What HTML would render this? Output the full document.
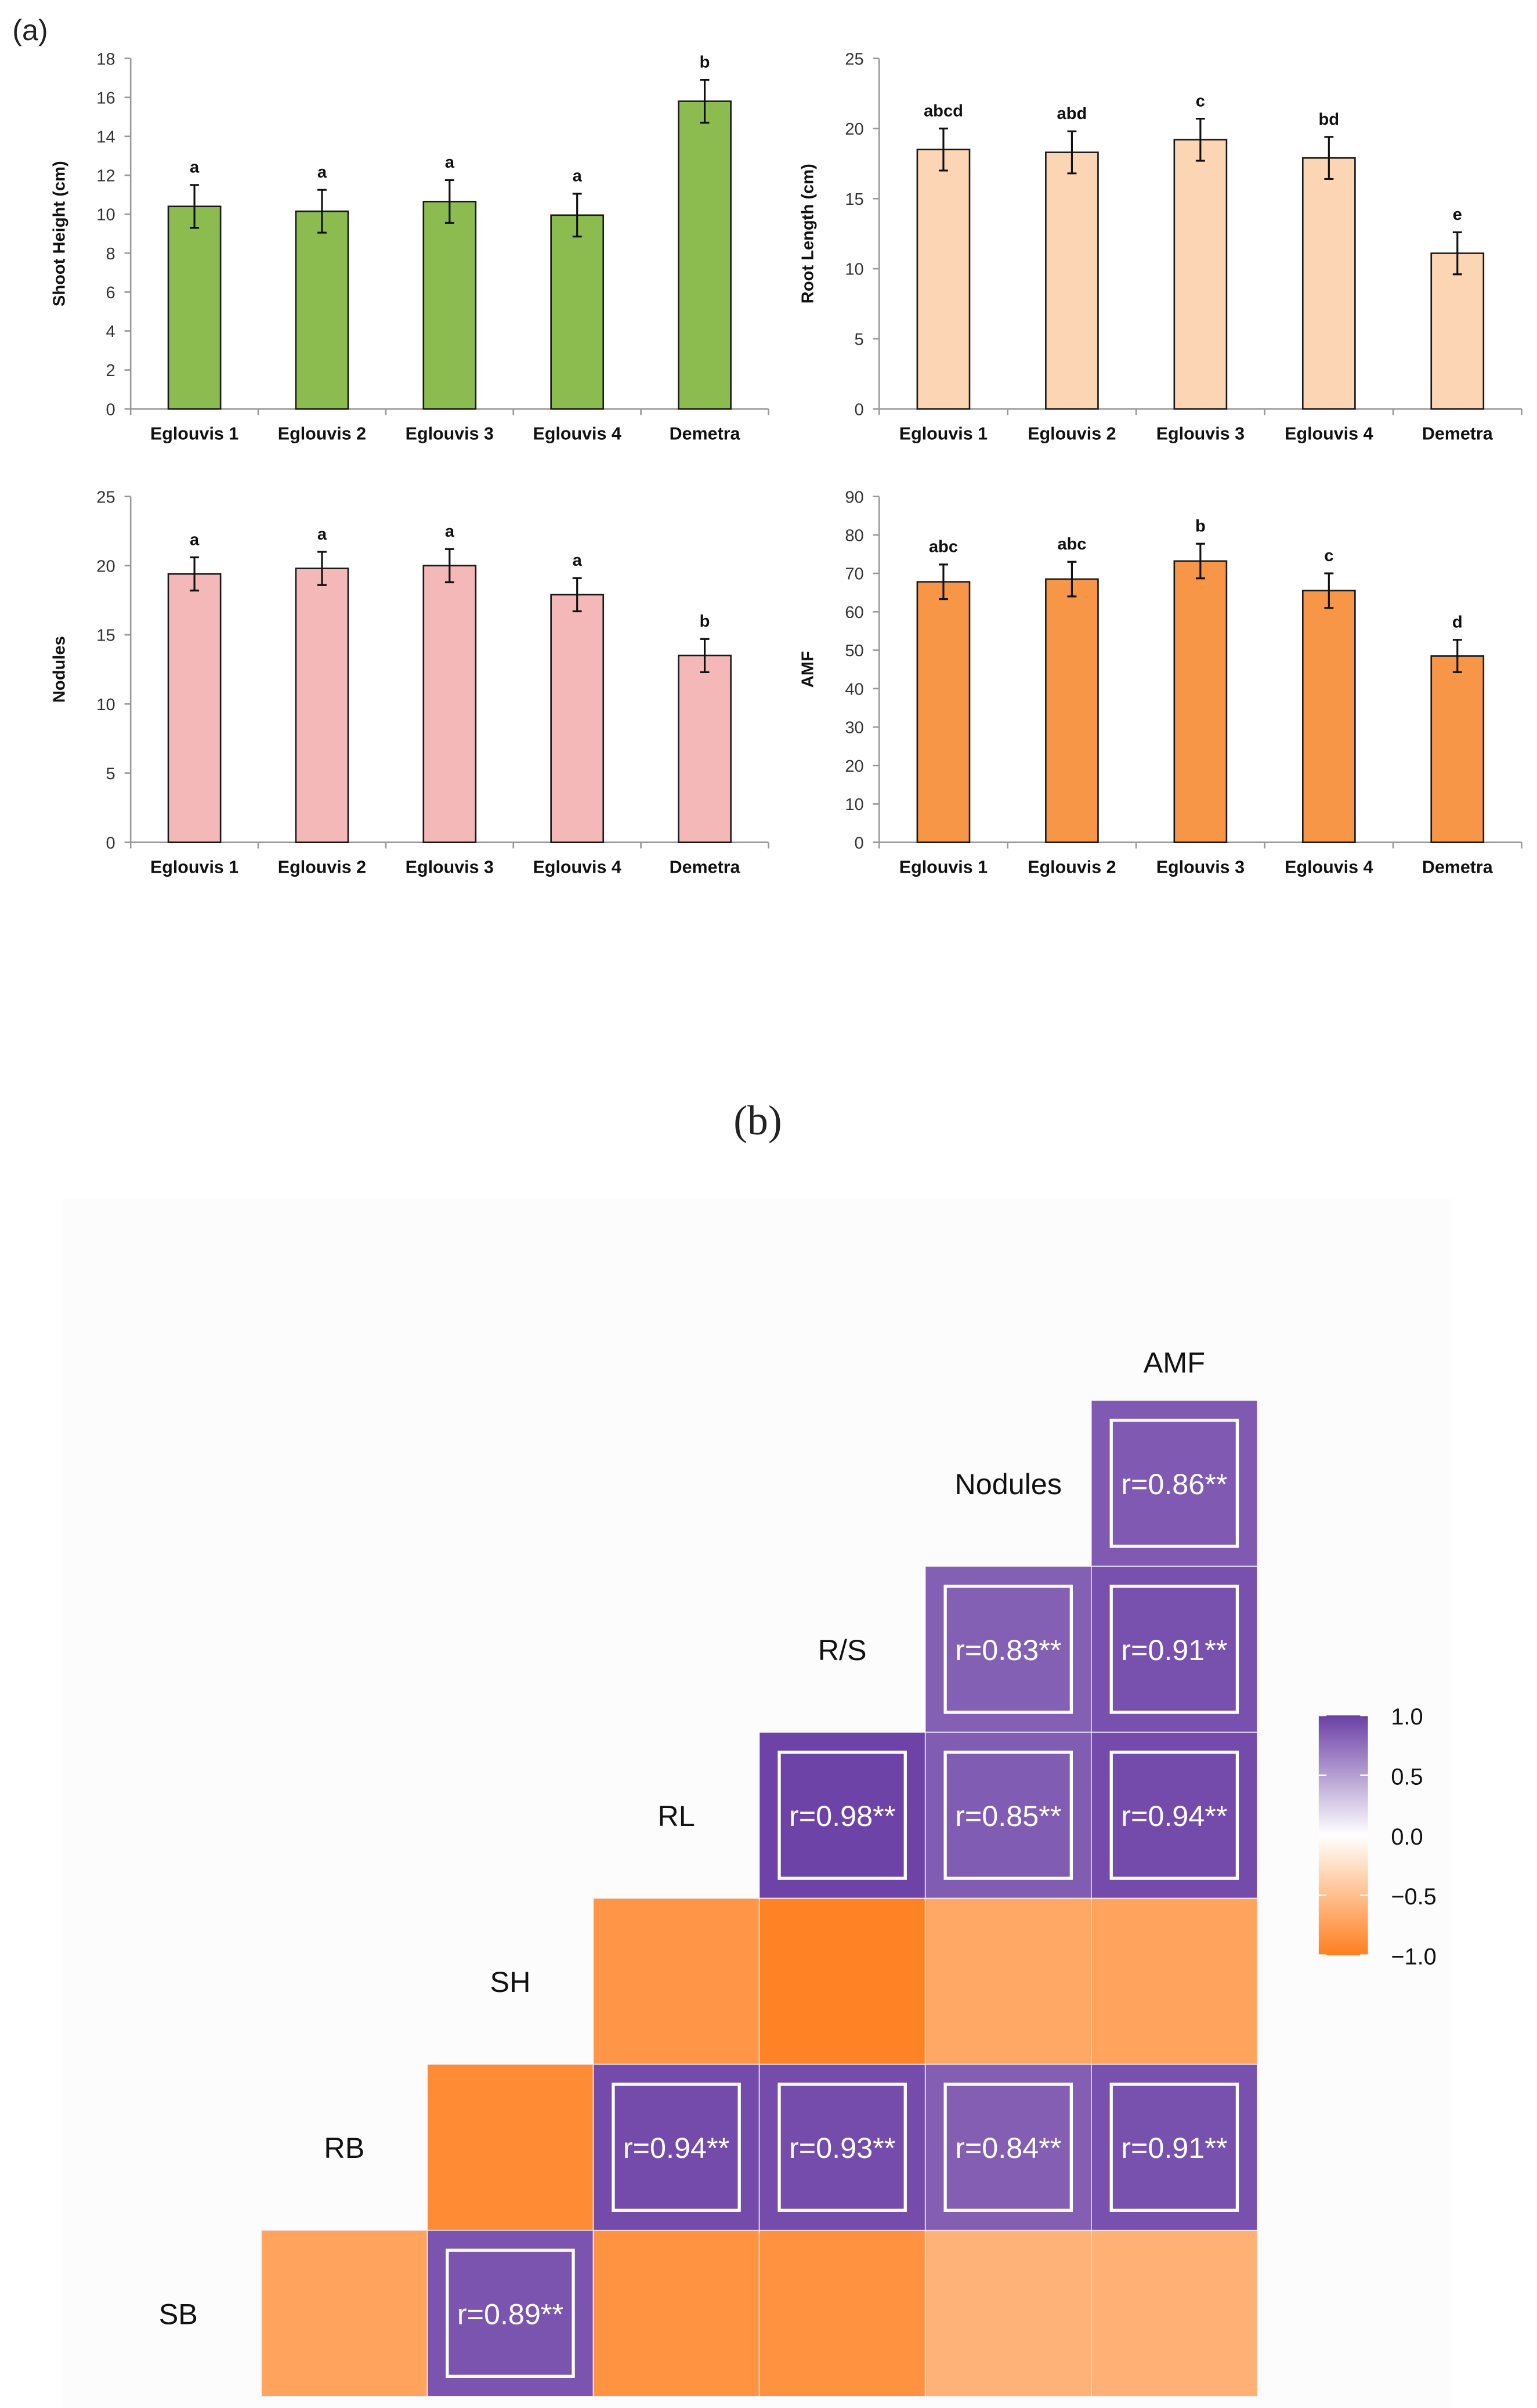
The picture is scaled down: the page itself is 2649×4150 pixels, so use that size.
<!DOCTYPE html>
<html><head><meta charset="utf-8"><style>
html,body{margin:0;padding:0;background:#fff}
svg{display:block}
</style></head><body>
<svg id="root" width="2649" height="4150" viewBox="0 0 1000 1566.6" xmlns="http://www.w3.org/2000/svg" font-family="Liberation Sans, sans-serif">
<rect x="0" y="0" width="1000" height="1567" fill="#fff"/>
<text x="8" y="26" font-size="19" fill="#222">(a)</text>
<text x="493" y="738" font-size="27" font-family="Liberation Serif, serif" text-anchor="middle" fill="#222">(b)</text>
<rect x="40" y="780" width="905" height="787" fill="#fcfcfc"/>
<g id="bars"></g>
<g id="heat"></g>
</svg>
<script>
const categories=["Eglouvis 1","Eglouvis 2","Eglouvis 3","Eglouvis 4","Demetra"];
const shootVals=[10.4,10.15,10.65,9.95,15.8];
const shootErr=[1.1,1.1,1.1,1.1,1.1];
const shootLetters=["a","a","a","a","b"];
const rootVals=[18.5,18.3,19.2,17.9,11.1];
const rootErr=[1.5,1.5,1.5,1.5,1.5];
const rootLetters=["abcd","abd","c","bd","e"];
const noduleVals=[19.4,19.8,20.0,17.9,13.5];
const noduleErr=[1.2,1.2,1.2,1.2,1.2];
const noduleLetters=["a","a","a","a","b"];
const amfVals=[67.8,68.5,73.2,65.5,48.5];
const amfErr=[4.5,4.5,4.5,4.5,4.2];
const amfLetters=["abc","abc","b","c","d"];
const shootTicks=[0,2,4,6,8,10,12,14,16,18];
const rootTicks=[0,5,10,15,20,25];
const noduleTicks=[0,5,10,15,20,25];
const amfTicks=[0,10,20,30,40,50,60,70,80,90];

const heatRows=["Nodules","R/S","RL","SH","RB","SB"];
const heatTopLabel="AMF";
const heatValues=[
 [null,null,null,null,null,0.86],
 [null,null,null,null,0.83,0.91],
 [null,null,null,0.98,0.85,0.94],
 [null,null,-0.82,-0.97,-0.68,-0.72],
 [null,-0.9,0.94,0.93,0.84,0.91],
 [-0.72,0.89,-0.84,-0.85,-0.6,-0.62]
];
const legendTicks=[1.0,0.5,0.0,-0.5,-1.0];

const NS="http://www.w3.org/2000/svg";
function mk(tag,attrs,parent,text){const e=document.createElementNS(NS,tag);for(const k in attrs)e.setAttribute(k,attrs[k]);if(text!==undefined)e.textContent=text;parent.appendChild(e);return e;}

const barsG=document.getElementById("bars");
function barChart(name,x0,x1,yTop,yBot,ticks,vals,errs,letters,color,title){
  const max=ticks[ticks.length-1];
  const ys=v=>yBot-(v/max)*(yBot-yTop);
  const step=(x1-x0)/categories.length;
  const xs=i=>x0+step*(i+0.5);
  const g=mk("g",{},barsG);
  
  
  const ax=mk("line",{x1:x0,y1:yTop,x2:x0,y2:yBot,stroke:"#999","stroke-width":1},g);
  
  
  const bx=mk("line",{x1:x0,y1:yBot,x2:x1,y2:yBot,stroke:"#999","stroke-width":1},g);
  
  
  ticks.forEach(t=>{
    mk("line",{x1:x0-4,y1:ys(t),x2:x0,y2:ys(t),stroke:"#999"},g);
    const tl=mk("text",{x:x0-10,y:ys(t)+4,"font-size":11,"text-anchor":"end",fill:"#333"},g,String(t));
    
    
  });
  for(let i=0;i<=categories.length;i++) mk("line",{x1:x0+step*i,y1:yBot,x2:x0+step*i,y2:yBot+4,stroke:"#999"},g);
  categories.forEach((c,i)=>{
    const cx=xs(i);
    const r=mk("rect",{x:cx-17,y:ys(vals[i]),width:34,height:yBot-ys(vals[i]),fill:color,stroke:"#1a1a1a","stroke-width":1},g);
    
    
    const eh=ys(vals[i]+errs[i]), el=ys(vals[i]-errs[i]);
    const eb=mk("path",{d:`M${cx},${eh}V${el}M${cx-3},${eh}H${cx+3}M${cx-3},${el}H${cx+3}`,stroke:"#111","stroke-width":1.2,fill:"none"},g);
    
    
    const lt=mk("text",{x:cx,y:eh-8,"font-size":11,"font-weight":"bold","text-anchor":"middle",fill:"#111"},g,letters[i]);
    
    
    const cl=mk("text",{x:cx,y:yBot+20,"font-size":11.5,"font-weight":"bold","text-anchor":"middle",fill:"#111"},g,c);
    
    
  });
  const yt=mk("text",{transform:`translate(${x0-43},${(yTop+yBot)/2}) rotate(-90)`,"font-size":11,"font-weight":"bold","text-anchor":"middle",fill:"#111"},g,title);
  
  
}
barChart("shoot-height",85,500,38,266,shootTicks,shootVals,shootErr,shootLetters,"#8cbc4f","Shoot Height (cm)");
barChart("root-length",572,990,38,266,rootTicks,rootVals,rootErr,rootLetters,"#fcd5b4","Root Length (cm)");
barChart("nodules",85,500,323,548,noduleTicks,noduleVals,noduleErr,noduleLetters,"#f4b8b8","Nodules");
barChart("amf",572,990,323,548,amfTicks,amfVals,amfErr,amfLetters,"#f79646","AMF");

function colorOf(v){
  const W=[255,255,255],P=[107,63,165],O=[255,127,30];
  const T=v>=0?P:O, a=Math.abs(v);
  return "rgb("+W.map((w,k)=>Math.round(w+(T[k]-w)*a)).join(",")+")";
}
const heatG=document.getElementById("heat");
const hx0=170,hy0=911,cs=108;
heatValues.forEach((row,r)=>{
  row.forEach((v,c)=>{
    if(v===null)return;
    const x=hx0+c*cs,y=hy0+r*cs;
    const cell=mk("rect",{x:x,y:y,width:cs,height:cs,fill:colorOf(v),stroke:"#f3eef8","stroke-width":0.6},heatG);
    
    
    if(v>0){
      const b=mk("rect",{x:x+13,y:y+13,width:cs-26,height:cs-26,fill:"none",stroke:"#fff","stroke-width":2},heatG);
      
      
      const t=mk("text",{x:x+cs/2,y:y+cs/2+7,"font-size":19,"text-anchor":"middle",fill:"#fff"},heatG,"r="+v.toFixed(2)+"**");
      
      
    }
  });
  const first=row.findIndex(v=>v!==null);
  const lx=hx0+first*cs-54, ly=hy0+r*cs+cs/2+7;
  const lab=mk("text",{x:lx,y:ly,"font-size":19,"text-anchor":"middle",fill:"#111"},heatG,heatRows[r]);
  
  
});
const heatTop=mk("text",{x:hx0+5*cs+cs/2,y:hy0-18,"font-size":19,"text-anchor":"middle",fill:"#111"},heatG,heatTopLabel);



const defs=mk("defs",{},heatG);
const grad=mk("linearGradient",{id:"lg",x1:0,y1:0,x2:0,y2:1},defs);
[1,0.5,0,-0.5,-1].forEach((v,i)=>mk("stop",{offset:i*0.25,"stop-color":colorOf(v)},grad));
const ly0=1116,ly1=1272;
const lb=mk("rect",{x:858,y:ly0,width:32,height:ly1-ly0,fill:"url(#lg)"},heatG);


legendTicks.forEach(t=>{
  const y=ly0+(1-t)/2*(ly1-ly0);
  mk("line",{x1:858,y1:y,x2:863,y2:y,stroke:"#fff"},heatG);
  mk("line",{x1:885,y1:y,x2:890,y2:y,stroke:"#fff"},heatG);
  const tl=mk("text",{x:905,y:y+6,"font-size":15,fill:"#111"},heatG,(t<0?"\u2212":"")+Math.abs(t).toFixed(1));
  
  
});
</script>
</body></html>
